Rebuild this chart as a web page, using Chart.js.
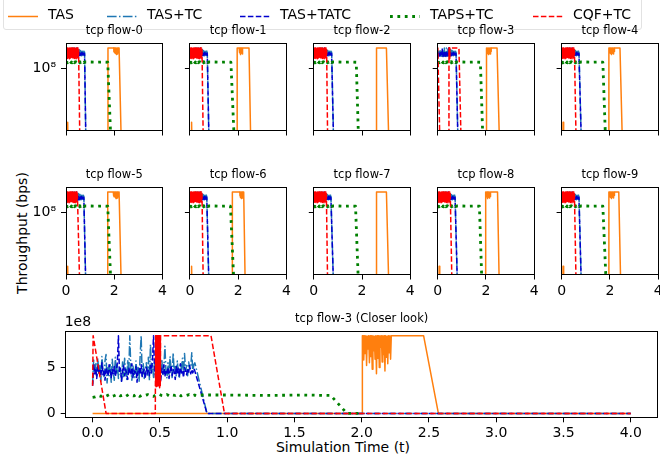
<!DOCTYPE html>
<html>
<head>
<meta charset="utf-8">
<script src="https://cdn.jsdelivr.net/npm/chart.js@4.4.1/dist/chart.umd.min.js"></script>
<style>
  html, body { margin: 0; padding: 0; background: #fff; }
  body { width: 660px; height: 455px; position: relative; overflow: hidden; font-family: "DejaVu Sans", sans-serif; }
  canvas { position: absolute; }
  .lbl { position: absolute; font-size: 14px; line-height: 1; color: #000; white-space: nowrap; }
  #ylab { left: 22px; top: 233px; transform: translate(-50%, -50%) rotate(-90deg); }
  #xlab { left: 343px; top: 447px; transform: translate(-50%, -50%); }
  #legendFrame { position: absolute; left: 3px; top: -5px; width: 637px; height: 33px; border: 1px solid #e2e2e2; border-radius: 3px; }
</style>
</head>
<body>
<div id="legendFrame"></div>
<div class="lbl" id="ylab">Throughput (bps)</div>
<div class="lbl" id="xlab">Simulation Time (t)</div>
<script>
// throughput values are in units of 1e8 bps, times in seconds
const T_END = 4.0;
const TOP = 8.45;

const TATC_NOISE = [3.0, 5.4, 4.3, 4.9, 3.8, 5.2, 4.4, 4.7, 4.0, 5.5, 4.2, 4.8, 3.6, 5.0, 4.5, 4.1, 5.3, 4.6, 3.9, 4.8,
  4.3, 5.1, 4.0, 4.7, 5.6, 8.45, 4.4, 4.9, 3.5, 4.6, 5.2, 4.1, 4.8, 4.3, 3.7, 5.0, 4.5, 4.2, 5.4, 3.9,
  4.7, 4.4, 5.1, 3.4, 4.6, 4.9, 4.2, 5.3, 4.0, 4.5, 4.8, 3.8, 5.0, 4.3, 4.7, 4.1, 5.2, 4.4, 5.9, 8.45,
  4.6, 3.9, 4.8, 4.2, 5.1, 4.5, 3.6, 4.9, 4.3, 5.3, 4.0, 4.7, 4.4, 5.0, 3.8, 4.6, 5.2, 4.1, 4.8, 4.5,
  3.7, 5.1, 4.3, 4.9, 4.0, 5.4, 4.4, 4.7, 3.9, 5.0, 4.6, 4.2, 4.9, 4.5, 5.2, 4.3, 4.8, 4.4, 4.9, 4.6];
const TC_NOISE = [3.2, 5.8, 4.6, 5.5, 3.9, 6.0, 4.4, 5.2, 3.5, 6.2, 4.8, 4.0, 5.7, 6.4, 3.3, 5.0, 4.1, 5.3, 3.4, 5.9,
  4.5, 3.6, 6.1, 4.2, 5.4, 3.8, 5.0, 4.6, 3.5, 5.6, 4.0, 6.0, 4.4, 3.7, 5.8, 4.3, 8.45, 4.9, 3.6, 5.2,
  4.5, 3.9, 5.7, 4.2, 5.0, 3.5, 6.2, 8.45, 4.1, 5.4, 3.8, 4.9, 5.5, 4.0, 6.1, 3.6, 7.5, 4.7, 5.2, 3.9,
  5.6, 4.3, 6.0, 4.8, 3.7, 5.3, 4.4, 5.9, 4.1, 5.0, 7.3, 4.6, 3.8, 5.5, 4.2, 6.2, 4.7, 3.9, 6.6, 4.5,
  5.1, 4.0, 5.7, 4.4, 3.8, 5.4, 4.9, 6.0, 4.3, 6.5, 4.6, 5.2, 4.1, 5.6, 4.8, 5.0, 6.6, 4.5, 5.3, 5.5];
const TAPS_NOISE = [1.75, 1.8, 1.95, 1.85, 2.0, 1.9, 2.05, 1.85, 1.95, 2.1, 1.9, 2.0, 1.85, 2.05, 1.95, 1.9, 2.1, 1.85, 2.0, 1.95,
  2.05, 1.9, 1.85, 2.0, 2.1, 1.95, 1.9, 2.05, 1.85, 2.0, 1.95, 2.1, 1.9, 2.0, 1.95, 2.05, 1.9, 2.0, 1.95, 2.0];
const CQF_BURST = [8.45, 3.0, 8.45, 3.4, 8.4, 2.9, 8.45, 3.8, 8.45, 3.1, 8.4, 3.5, 8.45, 2.8, 8.45, 3.3, 8.4, 3.0, 8.45, 3.6,
  8.45, 2.9, 8.4, 3.2, 8.45, 3.4, 8.45, 3.0, 8.45, 3.7, 8.4, 3.1, 8.45, 2.9, 8.45, 3.3, 8.45, 3.5, 8.4, 2.8,
  8.45, 3.2, 8.45, 3.6, 8.4, 3.0, 8.45, 3.4, 8.45];
const TAS_BURST = [8.45, 5.8, 8.45, 6.5, 8.45, 5.2, 8.4, 7.0, 8.45, 5.5, 8.45, 6.2, 8.45, 4.8, 8.45, 6.8, 8.4, 5.9, 8.45, 4.3,
  8.45, 6.0, 8.45, 5.0, 8.45, 7.2, 8.45, 5.6, 8.45, 6.4, 8.45, 4.6, 8.45, 6.1, 8.4, 5.4, 8.45, 6.6, 8.45, 5.9, 8.45];

// TAPS+TC plateau after the noisy start
const TAPS_FLAT_T = [1.0, 1.3, 1.55];
const TAPS_FLAT_V = [2.0, 1.95, 2.0];
const TAPS_END = 2.0;

// per-flow phase times (index = flow number)
const CQF_BURST_END = [0.52, 0.50, 0.53, 0.505, 0.53, 0.47, 0.50, 0.52, 0.52, 0.53];
const CQF_ZERO_AT   = [0.58, 0.56, 0.58, 0.98, 0.61, 0.58, 0.56, 0.58, 0.60, 0.61];
const BLUE_END      = [0.77, 0.72, 0.74, 0.76, 0.72, 0.74, 0.70, 0.71, 0.72, 0.72];
const BLUE_ZERO     = [0.83, 0.80, 0.83, 0.85, 0.83, 0.83, 0.80, 0.83, 0.83, 0.83];
const TAPS_DROP     = [1.73, 1.70, 1.76, 1.77, 1.71, 1.73, 1.68, 1.73, 1.73, 1.71];
const TAPS_ZERO     = [1.88, 1.86, 1.87, 1.89, 1.84, 1.88, 1.85, 1.87, 1.85, 1.87];
const TAS_RISE       = [1.74, 1.96, 2.60, 2.005, 1.96, 1.73, 1.76, 2.60, 1.98, 1.96];
const TAS_BURST_FROM = [1.98, 2.04, null, 2.01, 1.96, 1.96, 2.07, null, 1.98, 1.96];
const TAS_BURST_TO   = [2.20, 2.20, null, 2.22, 2.20, 2.20, 2.20, null, 2.20, 2.20];
const TAS_DROP       = [2.20, 2.45, 3.01, 2.46, 2.42, 2.20, 2.23, 3.01, 2.48, 2.37];
const TAS_ZERO       = [2.30, 2.53, 3.12, 2.57, 2.53, 2.30, 2.30, 3.12, 2.56, 2.46];
const TAS_SPIKE      = [1, 1, 0, 0, 1, 1, 1, 0, 1, 1];
const TAS_SPIKE_T = [0.05, 0.06, 0.08, 0.09];
const TAS_SPIKE_V = [0, 0.004, 0.004, 0];

// flow-3 CQF+TC has its own shape
const CQF3_HEAD_T = [0, 0.004, 0.1, 0.466];
const CQF3_HEAD_V = [3.0, 8.45, 0, 0];
const CQF3_BURST = [0.468, 0.505];
const CQF3_TAIL_T = [0.88, 0.98, 4.0];
const CQF3_TAIL_V = [8.45, 0, 0];

// axes
const SMALL_X_TICKS = [0, 2, 4];
const LOG_TICKS = [1e8];
const CLOSE_X_TICKS = [0, 0.5, 1.0, 1.5, 2.0, 2.5, 3.0, 3.5, 4.0];
const CLOSE_Y_TICKS = [0, 5];

const SERIES = [
  { label: 'TAS',      color: '#ff7f0e', dash: [],                 width: 1.5 },
  { label: 'TAS+TC',   color: '#1f77b4', dash: [9.6, 2.4, 1.5, 2.4], width: 1.5 },
  { label: 'TAS+TATC', color: '#0000cd', dash: [5.5, 2.4],         width: 1.5 },
  { label: 'TAPS+TC',  color: '#008000', dash: [2.8, 4.6],         width: 2.8 },
  { label: 'CQF+TC',   color: '#ff0000', dash: [5.5, 2.4],         width: 1.5 },
];
const LEGEND_X = [8, 107, 240, 390, 533];

Chart.defaults.font.family = '"DejaVu Sans", sans-serif';
Chart.defaults.color = '#000';

const P = (t, v) => ({ x: t, y: v * 1e8 });
// spread a sampled profile evenly across [t0, t1]
function spread(vals, t0, t1) {
  return vals.map((v, i) => P(t0 + (t1 - t0) * i / (vals.length - 1), v));
}
const zipP = (ts, vs) => ts.map((t, i) => P(t, vs[i]));

function tasSeries(f) {
  const d = [P(0, 0)];
  if (TAS_SPIKE[f]) d.push(...zipP(TAS_SPIKE_T, TAS_SPIKE_V));
  d.push(P(TAS_RISE[f], 0), P(TAS_RISE[f], TOP));
  if (TAS_BURST_FROM[f] !== null) d.push(...spread(TAS_BURST, TAS_BURST_FROM[f], TAS_BURST_TO[f]));
  d.push(P(TAS_DROP[f], TOP), P(TAS_ZERO[f], 0), P(T_END, 0));
  return d;
}
function blueSeries(noise, f) {
  return [...spread(noise, 0, BLUE_END[f]), P(BLUE_ZERO[f], 0), P(T_END, 0)];
}
function tapsSeries(f) {
  return [...spread(TAPS_NOISE, 0, 0.8), ...zipP(TAPS_FLAT_T, TAPS_FLAT_V),
          P(TAPS_DROP[f], 1.95), P(TAPS_ZERO[f], 0), P(TAPS_END, 0)];
}
function cqfSeries(f) {
  if (f === 3) {
    return [...zipP(CQF3_HEAD_T, CQF3_HEAD_V), ...spread(CQF_BURST, CQF3_BURST[0], CQF3_BURST[1]),
            ...zipP(CQF3_TAIL_T, CQF3_TAIL_V)];
  }
  return [...spread(CQF_BURST, 0, CQF_BURST_END[f]), P(CQF_ZERO_AT[f], 0), P(T_END, 0)];
}

// small log panels
const SMALL_W = 96.5, SMALL_H = 87;
const ROW_TOP = [43.5, 187.5];
const COL_LEFT = [66, 189.9, 313.8, 437.7, 561.6];
const LOG_MIN = 1.7e5, LOG_MAX = 1.35e9;
// log axis can't show 0: clip it far below the floor (like matplotlib does)
const LOG_FLOOR = LOG_MIN / 10;

function datasets(f, log) {
  const data = [tasSeries(f), blueSeries(TC_NOISE, f), blueSeries(TATC_NOISE, f), tapsSeries(f), cqfSeries(f)];
  return SERIES.map((s, i) => ({
    label: s.label,
    data: log ? data[i].map(p => ({ x: p.x, y: p.y > 0 ? p.y : LOG_FLOOR })) : data[i],
    borderColor: s.color, borderDash: s.dash, borderWidth: s.width,
    borderJoinStyle: 'round', borderCapStyle: 'butt',
    pointRadius: 0, pointHitRadius: 0, fill: false,
    order: SERIES.length - i,   // last series drawn on top, like matplotlib
  }));
}

const framePlugin = {
  id: 'frame',
  afterDatasetsDraw(chart) {
    const { ctx, chartArea: a } = chart;
    const al = v => Math.round(v - 0.5) + 0.5;
    ctx.save();
    ctx.strokeStyle = '#000';
    ctx.lineWidth = 1;
    ctx.strokeRect(al(a.left), al(a.top), al(a.right) - al(a.left), al(a.bottom) - al(a.top));
    ctx.restore();
  }
};

const tickGrid = { display: true, drawOnChartArea: false, drawTicks: true, tickLength: 5, color: '#000', lineWidth: 1 };
const common = { responsive: false, animation: false, devicePixelRatio: 1, events: [] };

function makeCanvas(left, top, w, h) {
  const c = document.createElement('canvas');
  c.width = w; c.height = h;
  c.style.left = left + 'px'; c.style.top = top + 'px';
  c.style.width = w + 'px'; c.style.height = h + 'px';
  document.body.appendChild(c);
  return c;
}

function smallChart(f) {
  const r = Math.floor(f / 5), c = f % 5;
  const L = COL_LEFT[c], T = ROW_TOP[r];
  const cl = Math.floor(L) - 50, ct = Math.floor(T) - 30;
  const offL = L - cl, offT = T - ct;
  const cw = 160, ch = Math.ceil(offT + SMALL_H + 26);
  const xH = ch - offT - SMALL_H;
  new Chart(makeCanvas(cl, ct, cw, ch), {
    type: 'line',
    data: { datasets: datasets(f, true) },
    options: {
      ...common,
      layout: { autoPadding: false, padding: { left: 0, top: 0, bottom: 0, right: cw - offL - SMALL_W } },
      plugins: {
        legend: { display: false }, tooltip: { enabled: false },
        title: {
          display: true, text: 'tcp flow-' + f, fullSize: false, color: '#000',
          font: { size: 11.5, weight: 'normal' },
          padding: { top: offT - 19.4, bottom: 5.6 }
        }
      },
      scales: {
        x: {
          type: 'linear', min: 0, max: 4, bounds: 'data',
          afterBuildTicks: s => { s.ticks = SMALL_X_TICKS.map(v => ({ value: v })); },
          afterFit: s => { s.height = xH; s.paddingLeft = 0; s.paddingRight = 0; },
          ticks: { autoSkip: false, maxRotation: 0, padding: 3, font: { size: 14 }, color: '#000',
                   callback: v => r === 1 ? String(v) : '' },
          grid: tickGrid, border: { display: false }
        },
        y: {
          type: 'logarithmic', min: LOG_MIN, max: LOG_MAX, bounds: 'data',
          afterBuildTicks: s => { s.ticks = LOG_TICKS.map(v => ({ value: v })); },
          afterFit: s => { s.width = offL; s.paddingTop = 0; s.paddingBottom = 0; },
          ticks: { autoSkip: false, padding: 5, font: { size: 14 }, color: '#000',
                   callback: () => c === 0 ? '10\u2078' : '' },
          grid: tickGrid, border: { display: false }
        }
      }
    },
    plugins: [framePlugin]
  });
}
for (let f = 0; f < 10; f++) smallChart(f);

// closer look (flow-3, linear)
(function closeChart() {
  const ct = 300, cw = 660, ch = 155;
  const L = 65.7, R = 657.7, T = 331.7, B = 417.3;
  const offT = T - ct;
  const offsetText = {
    id: 'offsetText',
    afterDraw(chart) {
      const { ctx, chartArea: a } = chart;
      ctx.save();
      ctx.font = '14px "DejaVu Sans", sans-serif';
      ctx.fillStyle = '#000';
      ctx.textAlign = 'left';
      ctx.textBaseline = 'alphabetic';
      ctx.fillText('1e8', a.left - 1, a.top - 6);
      ctx.restore();
    }
  };
  new Chart(makeCanvas(0, ct, cw, ch), {
    type: 'line',
    data: { datasets: datasets(3, false) },
    options: {
      ...common,
      layout: { autoPadding: false, padding: { left: 0, top: 0, bottom: 0, right: cw - R } },
      plugins: {
        legend: { display: false }, tooltip: { enabled: false },
        title: {
          display: true, text: 'tcp flow-3 (Closer look)', fullSize: false, color: '#000',
          font: { size: 11.5, weight: 'normal' },
          padding: { top: 12.1, bottom: offT - 13.8 - 12.1 }
        }
      },
      scales: {
        x: {
          type: 'linear', min: -0.2, max: 4.2, bounds: 'data',
          afterBuildTicks: s => { s.ticks = CLOSE_X_TICKS.map(v => ({ value: v })); },
          afterFit: s => { s.height = ch - (B - ct); s.paddingLeft = 0; s.paddingRight = 0; },
          ticks: { autoSkip: false, maxRotation: 0, padding: 3, font: { size: 14 }, color: '#000',
                   callback: v => Number(v).toFixed(1) },
          grid: tickGrid, border: { display: false }
        },
        y: {
          type: 'linear', min: -0.423e8, max: 8.883e8, bounds: 'data',
          afterBuildTicks: s => { s.ticks = CLOSE_Y_TICKS.map(v => ({ value: v * 1e8 })); },
          afterFit: s => { s.width = L; s.paddingTop = 0; s.paddingBottom = 0; },
          ticks: { autoSkip: false, padding: 5, font: { size: 14 }, color: '#000',
                   callback: v => String(Math.round(v / 1e8)) },
          grid: tickGrid, border: { display: false }
        }
      }
    },
    plugins: [framePlugin, offsetText]
  });
})();

// shared legend row across the top
const legendRow = {
  id: 'legendRow',
  afterDraw(chart) {
    const ctx = chart.ctx;
    ctx.save();
    ctx.font = '14px "DejaVu Sans", sans-serif';
    ctx.textBaseline = 'middle';
    ctx.textAlign = 'left';
    ctx.fillStyle = '#000';
    SERIES.forEach((s, i) => {
      const x = LEGEND_X[i];
      ctx.strokeStyle = s.color;
      ctx.lineWidth = s.width;
      ctx.lineCap = 'butt';
      ctx.setLineDash(s.dash);
      ctx.beginPath();
      ctx.moveTo(x, 16.5);
      ctx.lineTo(x + 30, 16.5);
      ctx.stroke();
      ctx.setLineDash([]);
      ctx.fillText(s.label, x + 40, 15.5);
    });
    ctx.restore();
  }
};
new Chart(makeCanvas(0, 0, 660, 30), {
  type: 'line',
  data: { datasets: [] },
  options: {
    ...common,
    scales: { x: { display: false }, y: { display: false } },
    plugins: { legend: { display: false }, tooltip: { enabled: false } }
  },
  plugins: [legendRow]
});
</script>
</body>
</html>
